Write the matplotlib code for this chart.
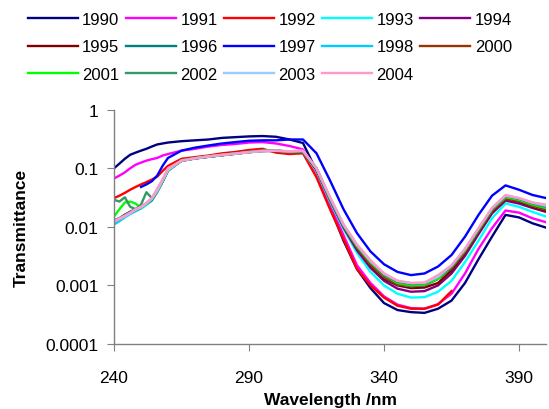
import numpy as np
import matplotlib
matplotlib.use("Agg")
import matplotlib.pyplot as plt
from matplotlib.ticker import FixedLocator, FixedFormatter, NullLocator

plt.rcParams['font.family'] = ['Liberation Sans', 'DejaVu Sans']

nan = np.nan

# wavelength grid (nm)
wl = [240, 242, 244, 246, 248, 250, 252, 254, 256, 258,
      260, 265, 270, 275, 280, 285, 290, 295, 300, 305,
      310, 315, 320, 325, 330, 335, 340, 345, 350, 355,
      360, 365, 370, 375, 380, 385, 390, 395, 400]

years = ['1990', '1991', '1992', '1993', '1994', '1995', '1996',
         '1997', '1998', '2000', '2001', '2002', '2003', '2004']

colors = ['#000080', '#FF00FF', '#FF0000', '#00FFFF', '#800080', '#800000', '#008080',
          '#0000FF', '#00CCFF', '#993300', '#00FF00', '#339966', '#99CCFF', '#FF99CC']

t1990 = [0.1, 0.12, 0.145, 0.17, 0.185, 0.2, 0.215, 0.235, 0.255, 0.265,
         0.275, 0.29, 0.3, 0.31, 0.33, 0.34, 0.35, 0.355, 0.345, 0.31,
         0.27, 0.09, 0.022, 0.0058, 0.0019, 0.0009, 0.0005, 0.00038, 0.00035, 0.00034,
         0.0004, 0.00055, 0.0011, 0.0028, 0.0068, 0.016, 0.0145, 0.0115, 0.0097]
t1991 = [0.067, 0.075, 0.085, 0.1, 0.115, 0.125, 0.135, 0.143, 0.15, 0.165,
         0.175, 0.2, 0.215, 0.235, 0.25, 0.26, 0.275, 0.28, 0.265, 0.24,
         0.21, 0.085, 0.024, 0.0072, 0.0022, 0.0011, 0.00065, 0.00047, 0.00041, 0.0004,
         0.00048, 0.00072, 0.0016, 0.0042, 0.0095, 0.019, 0.0175, 0.014, 0.012]
t1992 = [0.031, 0.034, 0.038, 0.043, 0.048, 0.053, 0.058, 0.064, 0.072, 0.09,
         0.11, 0.145, 0.155, 0.165, 0.18, 0.19, 0.205, 0.215, 0.185, 0.175,
         0.18, 0.07, 0.02, 0.0062, 0.0019, 0.001, 0.00062, 0.00045, 0.0004, 0.0004,
         0.00047, 0.0008, nan, nan, nan, nan, nan, nan, nan]
t1993 = [0.012, 0.013, 0.015, 0.017, 0.019, 0.021, 0.024, 0.028, 0.04, 0.06,
         0.092, 0.135, 0.148, 0.158, 0.168, 0.178, 0.19, 0.2, 0.2, 0.19,
         0.19, 0.09, 0.027, 0.0092, 0.0036, 0.0017, 0.001, 0.00072, 0.00062, 0.00063,
         0.00078, 0.0012, 0.0025, 0.0058, 0.014, 0.025, 0.022, 0.018, 0.015]
t1994 = [0.0125, 0.0135, 0.0155, 0.0175, 0.0195, 0.0215, 0.025, 0.029, 0.041, 0.061,
         0.093, 0.134, 0.147, 0.157, 0.167, 0.177, 0.188, 0.197, 0.198, 0.19,
         0.19, 0.095, 0.029, 0.0098, 0.004, 0.002, 0.0012, 0.00088, 0.00078, 0.0008,
         0.001, 0.0016, 0.0032, 0.0075, 0.017, 0.028, 0.025, 0.021, 0.018]
t1995 = [0.0125, 0.014, 0.016, 0.018, 0.02, 0.022, 0.025, 0.029, 0.04, 0.06,
         0.092, 0.135, 0.148, 0.158, 0.168, 0.178, 0.19, 0.198, 0.2, 0.19,
         0.195, 0.095, 0.03, 0.0102, 0.0043, 0.0022, 0.0013, 0.001, 0.0009, 0.00092,
         0.0011, 0.0018, 0.0036, 0.0082, 0.018, 0.03, 0.027, 0.022, 0.019]
t1996 = [0.013, 0.014, 0.016, 0.018, 0.02, 0.022, 0.025, 0.03, 0.041, 0.061,
         0.093, 0.136, 0.149, 0.159, 0.169, 0.179, 0.19, 0.2, 0.2, 0.192,
         0.195, 0.1, 0.031, 0.0105, 0.0046, 0.0024, 0.0014, 0.0011, 0.001, 0.00102,
         0.0013, 0.002, 0.0039, 0.0088, 0.02, 0.032, 0.029, 0.024, 0.021]
t1997 = [nan, nan, nan, nan, nan, 0.048, 0.053, 0.06, 0.075, 0.11,
         0.15, 0.2, 0.225, 0.245, 0.265, 0.28, 0.295, 0.3, 0.3, 0.31,
         0.31, 0.18, 0.062, 0.02, 0.0078, 0.0038, 0.0023, 0.0017, 0.0015, 0.0016,
         0.0021, 0.0033, 0.0068, 0.016, 0.034, 0.051, 0.043, 0.035, 0.031]
t1998 = [0.011, 0.0125, 0.0145, 0.0165, 0.0185, 0.0205, 0.024, 0.028, 0.039, 0.059,
         0.09, 0.134, 0.147, 0.157, 0.167, 0.177, 0.188, 0.197, 0.198, 0.19,
         0.192, 0.098, 0.03, 0.0103, 0.0045, 0.0023, 0.0014, 0.00105, 0.00097, 0.001,
         0.0013, 0.002, 0.0038, 0.0086, 0.019, 0.031, 0.028, 0.023, 0.02]
t2000 = [0.012, 0.0135, 0.0155, 0.0175, 0.0195, 0.0215, 0.025, 0.029, 0.04, 0.06,
         0.092, 0.135, 0.148, 0.158, 0.168, 0.178, 0.189, 0.198, 0.2, 0.19,
         0.194, 0.098, 0.03, 0.0104, 0.0045, 0.0023, 0.0014, 0.00105, 0.00098, 0.001,
         0.0013, 0.002, 0.0038, 0.0086, 0.019, 0.03, 0.028, 0.023, 0.02]
t2001 = [0.015, 0.02, 0.026, 0.027, 0.025, 0.021, 0.025, 0.03, 0.041, 0.061,
         0.093, 0.136, 0.149, 0.159, 0.169, 0.179, 0.19, 0.199, 0.2, 0.192,
         0.196, 0.1, 0.031, 0.0106, 0.0047, 0.0025, 0.0015, 0.0011, 0.001, 0.00103,
         0.0013, 0.0021, 0.004, 0.009, 0.02, 0.032, 0.029, 0.024, 0.021]
t2002 = [0.029, 0.027, 0.032, 0.022, 0.02, 0.024, 0.039, 0.031, 0.042, 0.062,
         0.094, 0.137, 0.15, 0.16, 0.17, 0.18, 0.19, 0.2, 0.2, 0.193,
         0.197, 0.1, 0.031, 0.0108, 0.0048, 0.0026, 0.0015, 0.00115, 0.00105, 0.00107,
         0.0014, 0.0021, 0.0041, 0.0092, 0.02, 0.033, 0.03, 0.025, 0.022]
t2003 = [0.012, 0.0135, 0.015, 0.017, 0.0195, 0.0215, 0.025, 0.03, 0.041, 0.062,
         0.093, 0.135, 0.148, 0.158, 0.168, 0.178, 0.188, 0.197, 0.2, 0.194,
         0.198, 0.1, 0.032, 0.011, 0.0049, 0.0026, 0.0016, 0.0012, 0.0011, 0.0011,
         0.0014, 0.0022, 0.0042, 0.0094, 0.021, 0.034, 0.031, 0.026, 0.023]
t2004 = [0.0125, 0.014, 0.0155, 0.0175, 0.02, 0.022, 0.026, 0.031, 0.045, 0.065,
         0.1, 0.135, 0.148, 0.16, 0.17, 0.178, 0.188, 0.197, 0.2, 0.195,
         0.2, 0.1, 0.032, 0.011, 0.005, 0.0027, 0.0016, 0.0012, 0.0011, 0.00112,
         0.0015, 0.0022, 0.0042, 0.0095, 0.021, 0.035, 0.031, 0.026, 0.024]

series = [t1990, t1991, t1992, t1993, t1994, t1995, t1996,
          t1997, t1998, t2000, t2001, t2002, t2003, t2004]

fig = plt.figure(figsize=(5.49, 4.10), dpi=100)
ax = fig.add_axes([114 / 549, 65 / 410, 432 / 549, 234.3 / 410])

lines = []
for name, vals, c in zip(years, series, colors):
    ln, = ax.plot(wl, vals, color=c, lw=1.7, label=name)
    lines.append(ln)

ax.set_yscale('log')
ax.set_xlim(240, 400)
ax.set_ylim(1e-4, 1)
ax.set_xticks([240, 290, 340, 390])
ax.yaxis.set_major_locator(FixedLocator([1e-4, 1e-3, 1e-2, 1e-1, 1]))
ax.yaxis.set_major_formatter(FixedFormatter(['0.0001', '0.001', '0.01', '0.1', '1']))
ax.yaxis.set_minor_locator(NullLocator())

for s in ['top', 'right']:
    ax.spines[s].set_visible(False)
for s in ['left', 'bottom']:
    ax.spines[s].set_color('#808080')
    ax.spines[s].set_linewidth(1.0)

ax.tick_params(axis='x', direction='out', length=5, color='#808080', labelsize=12.5, pad=14)
ax.tick_params(axis='y', direction='out', length=5, color='#808080', labelsize=12.5, pad=6)

ax.set_xlabel('Wavelength /nm', fontsize=12.5, fontweight='bold', labelpad=5)
ax.set_ylabel('Transmittance', fontsize=12.5, fontweight='bold', labelpad=12)

# legend is filled column by column, so reorder to read row by row
ncol = 5
order = [i for c in range(ncol) for i in range(c, len(years), ncol)]
fig.legend([lines[i] for i in order], [years[i] for i in order],
           loc='upper left', bbox_to_anchor=(28 / 549, 1 - 13 / 410),
           ncol=ncol, frameon=False, fontsize=12, borderpad=0, borderaxespad=0,
           handlelength=3.0, handletextpad=0.25, columnspacing=0.4, labelspacing=0.74)

fig.savefig('out.png', dpi=100)
